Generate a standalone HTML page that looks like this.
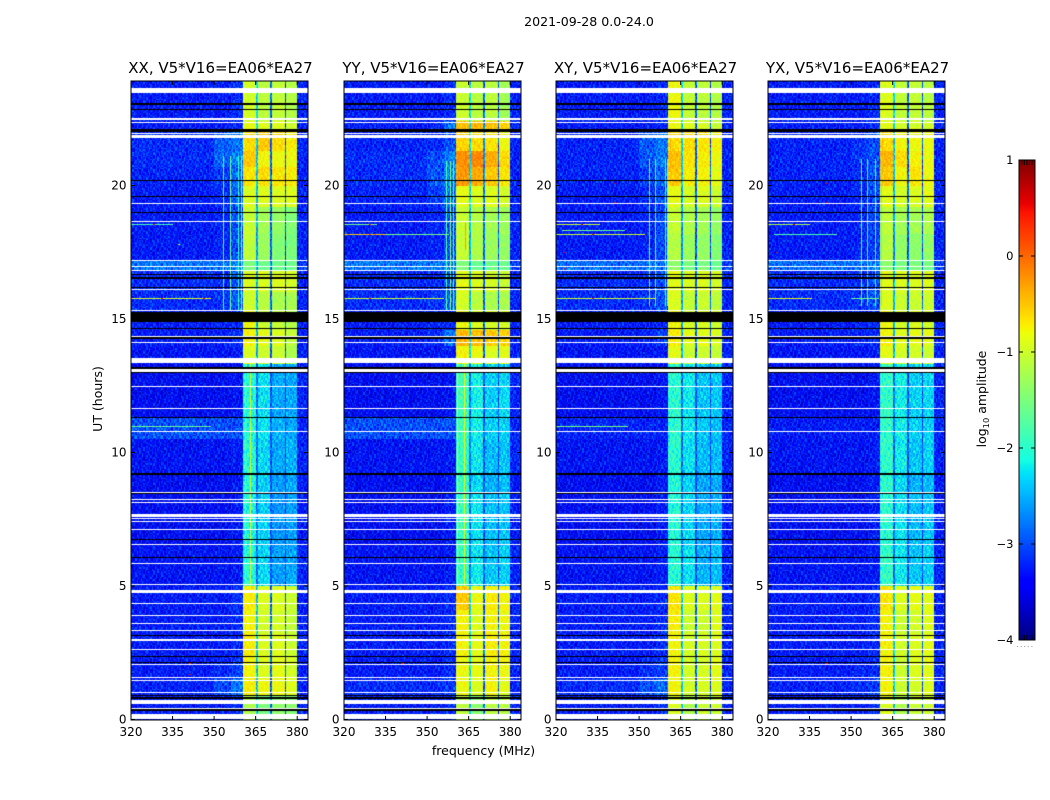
<!DOCTYPE html>
<html>
<head>
<meta charset="utf-8">
<title>2021-09-28 0.0-24.0</title>
<style>
html,body{margin:0;padding:0;background:#fff;}
#fig{position:relative;width:1050px;height:800px;overflow:hidden;background:#fff;}
canvas{position:absolute;display:block;}
svg{position:absolute;left:0;top:0;}
text{font-family:"DejaVu Sans","Liberation Sans",sans-serif;fill:#000;}
</style>
</head>
<body>
<div id="fig">
<svg id="overlay" width="1050" height="800" viewBox="0 0 1050 800">
  <text x="589" y="26" font-size="12.6" text-anchor="middle">2021-09-28 0.0-24.0</text>
  <text x="483.5" y="755" font-size="12.5" text-anchor="middle">frequency (MHz)</text>
  <text x="102" y="399" font-size="12.5" text-anchor="middle" transform="rotate(-90 102 399)">UT (hours)</text>
  <text x="986" y="399" font-size="12.5" text-anchor="middle" transform="rotate(-90 986 399)">log<tspan font-size="8.3" dy="3">10</tspan><tspan dy="-3"> amplitude</tspan></text>
</svg>
</div>
<script>
// ---- data ----
const panelTitles = ["XX, V5*V16=EA06*EA27","YY, V5*V16=EA06*EA27","XY, V5*V16=EA06*EA27","YX, V5*V16=EA06*EA27"];
const freqTicks = [320,335,350,365,380];
const utTicks = [0,5,10,15,20];
const colorbarTicks = [1,0,-1,-2,-3,-4];
const freqEdges = [320,350,356,360.5,365,366,370,370.8,375.3,375.8,380,384];
const utEdges = [0,0.9,1.5,2.3,3.2,4.1,5.0,6.5,8.5,9.2,10.5,11.3,13.3,14.0,14.6,15.3,16.0,16.8,17.2,18.2,19.2,20.0,20.7,21.3,22.0,22.4,23.9];

// log10 amplitude per UT block (rows, bottom to top) and frequency band (columns)
const xxValues = [
[-3.3,-3.3,-3.2,-1.2,-2.4,-1.5,-2.9,-1.4,-3.0,-1.4,-3.25],
[-3.25,-3.0,-2.8,-0.72,-2.4,-0.82,-2.9,-0.82,-3.0,-0.92,-3.25],
[-3.3,-3.2,-3.1,-0.77,-2.4,-0.92,-2.9,-0.87,-3.0,-0.97,-3.25],
[-3.3,-3.3,-3.2,-0.72,-2.4,-0.92,-2.9,-0.92,-3.0,-1.02,-3.25],
[-3.3,-3.3,-3.2,-0.77,-2.4,-0.97,-2.9,-0.97,-3.0,-1.07,-3.25],
[-3.3,-3.3,-3.2,-0.72,-2.4,-0.92,-2.9,-0.92,-3.0,-1.02,-3.25],
[-3.35,-3.35,-3.3,-2.05,-2.85,-2.3,-3.0,-2.6,-3.1,-2.55,-3.25],
[-3.4,-3.4,-3.3,-2.1,-2.85,-2.35,-3.0,-2.65,-3.1,-2.6,-3.3],
[-3.4,-3.4,-3.3,-2.1,-2.85,-2.35,-3.0,-2.6,-3.1,-2.55,-3.3],
[-3.35,-3.35,-3.3,-2.05,-2.85,-2.3,-3.0,-2.55,-3.1,-2.5,-3.25],
[-3.0,-3.0,-3.0,-2.05,-2.8,-2.25,-2.95,-2.5,-3.05,-2.55,-3.25],
[-3.4,-3.4,-3.35,-2.05,-2.85,-2.25,-3.0,-2.55,-3.05,-2.55,-3.25],
[-3.35,-3.35,-3.3,-0.92,-2.5,-1.02,-2.9,-1.02,-3.0,-1.22,-3.25],
[-3.3,-3.25,-3.2,-0.77,-2.5,-0.87,-2.9,-0.92,-3.0,-1.07,-3.25],
[-3.3,-3.25,-3.2,-0.82,-2.5,-1.02,-2.9,-1.07,-3.0,-1.17,-3.25],
[-3.2,-3.15,-2.9,-1.02,-2.5,-1.12,-2.9,-1.22,-3.0,-1.22,-3.25],
[-3.2,-3.2,-3.0,-0.92,-2.5,-0.92,-2.9,-0.92,-3.0,-0.97,-3.25],
[-2.8,-2.8,-2.75,-1.5,-2.5,-1.6,-2.8,-1.6,-2.9,-1.6,-3.1],
[-3.3,-3.25,-3.0,-1.1,-2.6,-1.3,-2.9,-1.45,-3.0,-1.5,-3.25],
[-3.3,-3.25,-3.0,-1.05,-2.5,-1.25,-2.9,-1.35,-3.0,-1.45,-3.25],
[-3.3,-3.2,-2.9,-0.92,-2.5,-0.92,-2.9,-0.92,-3.0,-0.92,-3.25],
[-3.25,-3.1,-2.85,-0.67,-2.4,-0.62,-2.9,-0.67,-3.0,-0.72,-3.25],
[-3.2,-2.9,-2.75,-0.52,-2.4,-0.77,-2.9,-0.82,-3.0,-0.82,-3.25],
[-3.2,-2.95,-2.8,-0.62,-2.4,-0.52,-2.9,-0.62,-3.0,-0.72,-3.25],
[-3.3,-3.3,-3.2,-0.87,-2.3,-0.92,-2.9,-0.92,-3.0,-1.02,-3.25],
[-3.3,-3.3,-3.2,-0.97,-2.3,-1.12,-2.9,-1.07,-3.0,-1.17,-3.25]
];
const yyValues = [
[-3.3,-3.3,-3.2,-1.12,-2.4,-1.42,-2.9,-1.12,-3.0,-1.12,-3.25],
[-3.2,-3.2,-3.1,-0.82,-2.3,-0.92,-2.9,-0.77,-3.0,-0.87,-3.25],
[-3.3,-3.3,-3.2,-0.82,-2.3,-0.87,-2.9,-0.77,-3.0,-0.82,-3.25],
[-3.3,-3.3,-3.2,-0.77,-2.3,-0.87,-2.9,-0.72,-3.0,-0.77,-3.25],
[-3.3,-3.3,-3.2,-0.77,-2.3,-0.92,-2.9,-0.77,-3.0,-0.82,-3.25],
[-3.3,-3.3,-3.2,-0.52,-2.3,-0.82,-2.9,-0.72,-3.0,-0.77,-3.25],
[-3.35,-3.35,-3.3,-1.95,-2.8,-2.2,-2.95,-2.4,-3.05,-2.35,-3.25],
[-3.4,-3.4,-3.3,-1.95,-2.8,-2.25,-3.0,-2.45,-3.05,-2.4,-3.3],
[-3.4,-3.4,-3.3,-1.95,-2.8,-2.3,-3.0,-2.5,-3.05,-2.45,-3.3],
[-3.35,-3.35,-3.3,-1.95,-2.8,-2.2,-3.0,-2.45,-3.05,-2.4,-3.25],
[-3.0,-3.0,-3.0,-1.9,-2.7,-2.15,-2.9,-2.35,-3.0,-2.35,-3.25],
[-3.4,-3.4,-3.35,-1.9,-2.8,-2.15,-2.95,-2.35,-3.0,-2.3,-3.25],
[-3.35,-3.35,-3.3,-0.77,-2.3,-0.82,-2.9,-0.92,-3.0,-0.87,-3.25],
[-3.3,-3.2,-2.8,-0.42,-2.3,-0.47,-2.9,-0.52,-3.0,-0.57,-3.25],
[-3.3,-3.25,-3.2,-0.82,-2.4,-0.92,-2.9,-0.97,-3.0,-0.97,-3.25],
[-3.2,-3.15,-2.9,-0.97,-2.4,-1.12,-2.9,-1.22,-3.0,-1.22,-3.25],
[-3.2,-3.2,-3.0,-0.87,-2.4,-0.92,-2.9,-0.97,-3.0,-1.02,-3.25],
[-2.8,-2.8,-2.75,-1.5,-2.5,-1.6,-2.8,-1.6,-2.9,-1.6,-3.1],
[-3.3,-3.25,-3.0,-1.05,-2.5,-1.2,-2.9,-1.3,-3.0,-1.35,-3.25],
[-3.3,-3.25,-3.0,-1.05,-2.4,-1.15,-2.9,-1.25,-3.0,-1.3,-3.25],
[-3.25,-3.1,-2.85,-0.87,-2.3,-0.92,-2.8,-0.92,-3.0,-0.97,-3.25],
[-3.2,-2.95,-2.75,-0.27,-2.3,-0.37,-2.7,-0.52,-3.0,-0.67,-3.25],
[-3.2,-3.0,-2.75,-0.22,-2.3,-0.17,-2.7,-0.37,-3.0,-0.62,-3.25],
[-3.25,-3.2,-3.0,-0.57,-2.3,-0.62,-2.7,-0.67,-3.0,-0.82,-3.25],
[-3.3,-3.25,-2.8,-0.47,-2.3,-0.42,-2.7,-0.47,-3.0,-0.57,-3.25],
[-3.3,-3.3,-3.2,-1.02,-2.3,-1.12,-2.9,-1.12,-3.0,-1.27,-3.25]
];
const xyValues = [
[-3.3,-3.3,-3.2,-0.92,-2.4,-1.22,-2.9,-1.02,-3.0,-1.02,-3.25],
[-3.2,-3.0,-2.85,-0.77,-2.4,-0.97,-2.9,-0.97,-3.0,-0.92,-3.25],
[-3.3,-3.2,-3.1,-0.77,-2.4,-0.97,-2.9,-0.97,-3.0,-0.87,-3.25],
[-3.3,-3.3,-3.2,-0.77,-2.4,-0.97,-2.9,-0.97,-3.0,-0.92,-3.25],
[-3.3,-3.3,-3.2,-0.72,-2.4,-1.02,-2.9,-1.02,-3.0,-0.92,-3.25],
[-3.3,-3.3,-3.2,-0.67,-2.4,-0.92,-2.9,-0.92,-3.0,-0.87,-3.25],
[-3.35,-3.35,-3.3,-2.0,-2.85,-2.25,-3.0,-2.5,-3.1,-2.45,-3.25],
[-3.4,-3.4,-3.3,-2.05,-2.85,-2.3,-3.0,-2.55,-3.1,-2.5,-3.3],
[-3.4,-3.4,-3.3,-2.05,-2.85,-2.35,-3.0,-2.55,-3.1,-2.55,-3.3],
[-3.35,-3.35,-3.3,-2.0,-2.85,-2.25,-3.0,-2.45,-3.1,-2.45,-3.25],
[-3.25,-3.25,-3.25,-2.0,-2.8,-2.2,-2.95,-2.4,-3.05,-2.45,-3.25],
[-3.4,-3.4,-3.35,-2.0,-2.85,-2.2,-3.0,-2.4,-3.05,-2.4,-3.25],
[-3.35,-3.35,-3.3,-0.87,-2.5,-1.02,-2.9,-1.02,-3.0,-1.07,-3.25],
[-3.3,-3.25,-3.1,-0.72,-2.5,-0.87,-2.9,-0.87,-3.0,-0.92,-3.25],
[-3.3,-3.25,-3.2,-0.77,-2.5,-0.97,-2.9,-0.97,-3.0,-1.02,-3.25],
[-3.2,-3.15,-3.0,-0.92,-2.5,-1.07,-2.9,-1.02,-3.0,-1.12,-3.25],
[-3.2,-3.2,-3.0,-0.87,-2.5,-0.92,-2.9,-0.92,-3.0,-0.97,-3.25],
[-2.85,-2.85,-2.8,-1.4,-2.5,-1.5,-2.8,-1.5,-2.9,-1.6,-3.1],
[-3.3,-3.25,-3.05,-1.15,-2.7,-1.3,-2.95,-1.35,-3.0,-1.45,-3.25],
[-3.3,-3.25,-3.05,-1.05,-2.6,-1.2,-2.9,-1.25,-3.0,-1.35,-3.25],
[-3.3,-3.2,-3.0,-0.87,-2.5,-0.97,-2.9,-0.92,-3.0,-1.02,-3.25],
[-3.25,-3.1,-2.9,-0.52,-2.4,-0.72,-2.9,-0.77,-3.0,-0.87,-3.25],
[-3.25,-2.95,-2.8,-0.47,-2.4,-0.67,-2.9,-0.72,-3.0,-0.82,-3.25],
[-3.25,-2.95,-2.8,-0.62,-2.4,-0.62,-2.9,-0.67,-3.0,-0.77,-3.25],
[-3.3,-3.3,-3.2,-0.82,-2.3,-0.92,-2.9,-0.97,-3.0,-1.02,-3.25],
[-3.3,-3.3,-3.2,-0.82,-2.3,-1.07,-2.9,-1.12,-3.0,-1.17,-3.25]
];
const yxValues = [
[-3.3,-3.3,-3.2,-0.92,-2.4,-1.22,-2.9,-1.02,-3.0,-1.02,-3.25],
[-3.25,-3.2,-3.1,-0.77,-2.4,-1.02,-2.9,-0.97,-3.0,-0.92,-3.25],
[-3.3,-3.25,-3.2,-0.77,-2.4,-1.02,-2.9,-0.92,-3.0,-0.87,-3.25],
[-3.3,-3.3,-3.2,-0.77,-2.4,-0.97,-2.9,-0.92,-3.0,-0.87,-3.25],
[-3.3,-3.3,-3.2,-0.77,-2.4,-1.02,-2.9,-0.97,-3.0,-0.92,-3.25],
[-3.3,-3.3,-3.2,-0.67,-2.4,-0.92,-2.9,-0.87,-3.0,-0.87,-3.25],
[-3.35,-3.35,-3.3,-1.95,-2.85,-2.2,-3.0,-2.4,-3.1,-2.35,-3.25],
[-3.4,-3.4,-3.3,-2.0,-2.85,-2.25,-3.0,-2.45,-3.1,-2.4,-3.3],
[-3.4,-3.4,-3.3,-2.0,-2.85,-2.3,-3.0,-2.5,-3.1,-2.45,-3.3],
[-3.35,-3.35,-3.3,-1.95,-2.85,-2.2,-3.0,-2.4,-3.1,-2.35,-3.25],
[-3.3,-3.3,-3.3,-1.95,-2.8,-2.15,-2.95,-2.35,-3.05,-2.35,-3.25],
[-3.4,-3.4,-3.35,-1.95,-2.85,-2.15,-3.0,-2.35,-3.05,-2.3,-3.25],
[-3.35,-3.35,-3.3,-0.87,-2.5,-0.97,-2.9,-0.97,-3.0,-1.02,-3.25],
[-3.3,-3.25,-3.2,-0.77,-2.5,-0.87,-2.9,-0.87,-3.0,-0.87,-3.25],
[-3.3,-3.25,-3.2,-0.82,-2.5,-0.97,-2.9,-0.92,-3.0,-0.97,-3.25],
[-3.2,-3.15,-3.0,-0.92,-2.5,-1.02,-2.9,-1.02,-3.0,-1.02,-3.25],
[-3.2,-3.2,-3.05,-0.87,-2.5,-0.92,-2.9,-0.92,-3.0,-0.92,-3.25],
[-2.85,-2.85,-2.8,-1.4,-2.5,-1.5,-2.8,-1.5,-2.9,-1.55,-3.1],
[-3.3,-3.25,-3.1,-1.15,-2.7,-1.35,-2.95,-1.4,-3.0,-1.35,-3.25],
[-3.3,-3.25,-3.1,-1.1,-2.6,-1.25,-2.9,-1.25,-3.0,-1.2,-3.25],
[-3.3,-3.25,-3.05,-0.87,-2.5,-0.97,-2.9,-0.92,-3.0,-0.87,-3.25],
[-3.25,-3.2,-3.0,-0.52,-2.4,-0.77,-2.9,-0.67,-3.0,-0.82,-3.25],
[-3.25,-3.15,-3.0,-0.42,-2.4,-0.62,-2.9,-0.77,-3.0,-0.82,-3.25],
[-3.25,-3.15,-3.0,-0.62,-2.4,-0.77,-2.9,-0.82,-3.0,-0.82,-3.25],
[-3.3,-3.3,-3.2,-0.87,-2.3,-0.97,-2.9,-0.97,-3.0,-1.02,-3.25],
[-3.3,-3.3,-3.2,-0.92,-2.3,-1.07,-2.9,-1.07,-3.0,-1.12,-3.25]
];

// flagged integrations [utLow, utHigh]: blank (white) and zero (black)
const whiteFlags = [
[0.01,0.19],[0.40,0.44],[0.58,0.74],[0.98,1.02],[1.44,1.48],[1.54,1.58],[2.05,2.09],[2.59,2.63],[2.95,3.00],[3.30,3.34],[3.57,3.60],[3.88,3.91],[4.31,4.35],[4.75,4.85],[5.04,5.07],[5.84,5.87],[6.53,6.57],[7.09,7.12],[7.41,7.45],[7.52,7.56],[7.60,7.68],[8.10,8.13],[8.23,8.26],[8.48,8.52],[10.75,10.79],[11.63,11.67],[12.45,12.49],[13.01,13.11],[13.34,13.55],[14.10,14.14],[14.33,14.37],[15.29,15.32],[16.09,16.12],[16.80,16.83],[16.93,16.97],[17.16,17.20],[18.62,18.66],[19.29,19.33],[21.79,21.89],[21.92,21.96],[22.34,22.38],[22.47,22.51],[23.48,23.67]
];
const blackFlags = [
[0.33,0.38],[0.78,0.83],[0.88,0.92],[2.13,2.16],[2.34,2.38],[3.12,3.15],[6.04,6.07],[6.72,6.75],[8.45,8.48],[9.15,9.22],[11.29,11.33],[12.98,13.01],[13.11,13.20],[14.25,14.31],[14.64,14.68],[14.87,15.26],[16.15,16.19],[16.51,16.56],[16.67,16.70],[18.97,19.00],[19.57,19.61],[20.17,20.20],[22.01,22.10],[22.83,22.85],[23.03,23.08]
];

// narrow-band interference: vertical [freq, utLow, utHigh, value], horizontal [ut, freqLow, freqHigh, value]
const xxVerticals = [[353.3,15.3,21.1,-1.8],[355.8,15.3,21.1,-1.6],[358.8,15.3,21.1,-1.9],[359.8,15.3,21.1,-1.7],[361,5,13.3,-1.8],[363,5,13.3,-1.0]];
const yyVerticals = [[356.7,15.3,20.9,-1.7],[358.3,15.3,20.9,-1.5],[359.2,15.3,20.9,-1.6],[360.9,5,13.5,-1.1],[363.4,5,13.5,-0.8],[363.6,17.6,18.6,-0.3],[363.6,20.3,21.3,-0.1]];
const xyVerticals = [[353.5,15.5,21,-1.6],[355.9,15.5,21,-1.8],[359.4,15.5,21,-1.9],[360,15.5,21,-1.7],[361.2,20.5,22,-0.4]];
const yxVerticals = [[353.5,15.5,21,-1.7],[355.9,15.5,21,-1.9],[358.7,15.5,21,-1.9],[360.7,15.5,21,-1.7],[361.2,20.5,22,-0.4]];
const xxHorizontals = [[15.77,320,349,-0.9],[18.55,320,335,-1.8],[5.87,320,345,-1.3],[10.99,320,349,-1.6],[17.0,320,352,-1.7]];
const yyHorizontals = [[18.17,320,335,-0.5],[18.17,335,358,-1.5],[15.77,320,356,-1.0],[18.55,320,332,-1.5]];
const xyHorizontals = [[18.55,320,336,-1.0],[18.33,322,345,-1.6],[18.17,320,352,-1.0],[15.77,320,356,-1.0],[10.99,320,346,-1.5]];
const yxHorizontals = [[18.55,320,335,-1.2],[18.17,322,345,-1.8],[15.77,320,336,-0.9],[15.77,350,360,-1.6]];
// isolated hot pixels [ut, freq, value]
const xxHotPixels = [[18.55,328,0.4],[15.77,331,0.3],[15.77,346,0.3],[17.8,337,-1.2],[2.1,341,0.3],[1.7,341,0.4]];
const yyHotPixels = [[18.55,329,0.4],[15.77,329,0.4],[2.1,341,0.3],[18.17,329,0.2]];
const xyHotPixels = [[18.55,329,0.5],[18.17,333,0.4],[15.77,333,0.4],[20.1,341,0.6],[19.4,341,0.6],[17.5,323,0.6],[16.9,323,0.5]];
const yxHotPixels = [[18.55,329,0.5],[20.1,341,0.7],[19.4,341,0.6],[17.5,323,0.6],[16.9,323,0.5],[2.1,341,0.4]];
// per-pixel scatter around the block level, in steps of 0.1 dex
const speckleTable = [
[2,-3,1,4,-2,0,-4,3,1,-1,2,-3,0,4,-2,1,-4,2,-1],
[-1,3,-4,0,2,-2,1,-3,4,0,-2,3,-1,-4,1,2,-3,0,3],
[4,0,-2,3,-3,1,2,-1,-4,2,3,0,-3,1,-2,4,0,-1,-3],
[-3,1,2,-1,4,-4,0,3,-2,1,-3,4,2,-1,0,-3,2,3,-2],
[0,-2,3,1,-1,3,-3,2,0,-4,1,-2,3,-3,4,0,-1,-2,2],
[3,-4,0,-2,1,2,4,-1,-3,2,0,3,-4,1,-1,-2,3,0,-3],
[-2,2,-1,4,-3,0,-2,3,1,-3,4,-1,0,2,-4,3,1,-2,1],
[1,0,3,-3,2,-1,3,-4,2,0,-2,1,-3,4,2,-1,-2,3,-4],
[-4,3,-2,1,0,4,-1,2,-3,3,-1,-4,2,0,-3,1,4,-2,0],
[2,-1,4,-3,3,-2,1,0,-1,-4,3,2,-2,-1,3,-3,0,1,4],
[-1,-3,0,2,-4,3,-3,1,4,-2,0,-1,3,-3,1,2,-4,3,-1],
[3,2,-3,0,1,-1,2,-4,-2,3,-3,4,-1,2,0,-2,1,-3,2],
[0,-2,1,3,-4,2,-1,4,0,-3,2,-1,1,-4,3,-2,2,0,-3]
];

const panelValues = [xxValues,yyValues,xyValues,yxValues];
const panelVerticals = [xxVerticals,yyVerticals,xyVerticals,yxVerticals];
const panelHorizontals = [xxHorizontals,yyHorizontals,xyHorizontals,yxHorizontals];
const panelHotPixels = [xxHotPixels,yyHotPixels,xyHotPixels,yxHotPixels];
const panelKeys = ["xx","yy","xy","yx"];

// ---- layout and scales ----
const panelLefts = [131,344,556,768];
const panelWidth = 177, plotTop = 81, plotBottom = 720;
const pxPerMHz = 2.77, pxPerHour = 26.7, utZeroY = 719.5;
const channelWidth = 0.5, integrationLength = 0.05;
const xScale = (left,f) => left + (f-320)*pxPerMHz;
const yScale = ut => utZeroY - ut*pxPerHour;
const cbLeft = 1019, cbRight = 1035, cbTop = 160, cbBottom = 640, cbMin = -4, cbMax = 1;
const cbScale = v => cbBottom - (v-cbMin)/(cbMax-cbMin)*(cbBottom-cbTop);

function ramp(t,pts){
  for(let i=1;i<pts.length;i++){
    if(t<=pts[i][0]){
      const a=pts[i-1],b=pts[i];
      return a[1]+(b[1]-a[1])*(t-a[0])/(b[0]-a[0]);
    }
  }
  return pts[pts.length-1][1];
}
function jet(v){
  const t=Math.max(0,Math.min(1,(v-cbMin)/(cbMax-cbMin)));
  const r=ramp(t,[[0,0],[0.35,0],[0.66,1],[0.89,1],[1,0.5]]);
  const g=ramp(t,[[0,0],[0.125,0],[0.375,1],[0.64,1],[0.91,0],[1,0]]);
  const b=ramp(t,[[0,0.5],[0.11,1],[0.34,1],[0.65,0],[1,0]]);
  return "rgb("+Math.round(r*255)+","+Math.round(g*255)+","+Math.round(b*255)+")";
}
function bandIndex(edges,val){
  for(let i=0;i<edges.length-1;i++){ if(val<edges[i+1]) return i; }
  return edges.length-2;
}
function speckle(r,c,p){
  const row=speckleTable[(r+p*5)%speckleTable.length];
  return row[(c+r*7+p*3)%row.length]*0.1;
}

const fig=document.getElementById("fig");
const svg=document.getElementById("overlay");
const NS="http://www.w3.org/2000/svg";
function line(x1,y1,x2,y2,stroke,w){
  const el=document.createElementNS(NS,"line");
  el.setAttribute("x1",x1);el.setAttribute("y1",y1);el.setAttribute("x2",x2);el.setAttribute("y2",y2);
  el.setAttribute("stroke",stroke);el.setAttribute("stroke-width",w);
  svg.appendChild(el);
  return el;
}
function label(x,y,txt,size,anchor){
  const el=document.createElementNS(NS,"text");
  el.setAttribute("x",x);el.setAttribute("y",y);el.setAttribute("font-size",size);el.setAttribute("text-anchor",anchor);
  el.textContent=txt;
  svg.appendChild(el);
  return el;
}

panelLefts.forEach((left,p)=>{
  const canvas=document.createElement("canvas");
  canvas.width=panelWidth;canvas.height=plotBottom-plotTop;
  canvas.style.left=left+"px";canvas.style.top=plotTop+"px";
  
  
  fig.insertBefore(canvas,svg);
  const ctx=canvas.getContext("2d");
  const X=f=>Math.round(xScale(0,f));
  const Y=ut=>Math.round(yScale(ut)-plotTop);
  const values=panelValues[p];
  const nChan=Math.ceil((384-320)/channelWidth);
  const nInt=Math.ceil(utEdges[utEdges.length-1]/integrationLength);
  for(let r=0;r<nInt;r++){
    const ut=r*integrationLength;
    const row=values[bandIndex(utEdges,ut+integrationLength/2)];
    const y0=Y(ut+integrationLength),y1=Y(ut);
    for(let c=0;c<nChan;c++){
      const f=320+c*channelWidth;
      const base=row[bandIndex(freqEdges,f+channelWidth/2)];
      const amp=base<-2.7?1:(base<-1.6?0.8:0.45);
      ctx.fillStyle=jet(base+speckle(r,c,p)*amp);
      ctx.fillRect(X(f),y0,Math.max(1,X(f+channelWidth)-X(f)),Math.max(1,y1-y0));
    }
  }
  panelVerticals[p].forEach((v,i)=>{
    const [f,lo,hi,val]=v;
    for(let ut=lo;ut<hi;ut+=integrationLength){
      const r=Math.round(ut/integrationLength);
      ctx.fillStyle=jet(val+speckle(r,i,p)*0.35);
      ctx.fillRect(X(f),Y(ut+integrationLength),1,Math.max(1,Y(ut)-Y(ut+integrationLength)));
    }
  });
  panelHorizontals[p].forEach((h,i)=>{
    const [ut,lo,hi,val]=h;
    for(let f=lo;f<hi;f+=channelWidth){
      const c=Math.round((f-320)/channelWidth);
      ctx.fillStyle=jet(val+speckle(i,c,p)*0.5);
      ctx.fillRect(X(f),Y(ut),Math.max(1,X(f+channelWidth)-X(f)),1);
    }
  });
  panelHotPixels[p].forEach(h=>{
    const [ut,f,val]=h;
    ctx.fillStyle=jet(val);
    ctx.fillRect(X(f),Y(ut),2,1);
  });
  whiteFlags.forEach(fl=>{
    ctx.fillStyle="#fff";
    ctx.fillRect(0,Y(fl[1]),panelWidth,Math.max(1,Y(fl[0])-Y(fl[1])));
  });
  blackFlags.forEach(fl=>{
    ctx.fillStyle="#000";
    ctx.fillRect(0,Y(fl[1]),panelWidth,Math.max(1,Y(fl[0])-Y(fl[1])));
  });

  const frame=document.createElementNS(NS,"rect");
  frame.setAttribute("x",left);frame.setAttribute("y",plotTop);
  frame.setAttribute("width",panelWidth);frame.setAttribute("height",plotBottom-plotTop);
  frame.setAttribute("fill","none");frame.setAttribute("stroke","#000");frame.setAttribute("stroke-width","1");
  
  
  svg.appendChild(frame);

  const title=label(left+89.5,73,panelTitles[p],15,"middle");
  
  

  freqTicks.forEach(f=>{
    const x=xScale(left,f);
    const tb=line(x,plotBottom,x,plotBottom-4,"#000",1);
    
    
    const tt=line(x,plotTop,x,plotTop+4,"#000",1);
    
    
    const tl=label(x,736,String(f),12,"middle");
    
    
  });
  utTicks.forEach(u=>{
    const y=yScale(u);
    const tl=line(left,y,left+4,y,"#000",1);
    
    
    const tr=line(left+panelWidth,y,left+panelWidth-4,y,"#000",1);
    
    
    const lab=label(left-4.5,y+4,String(u),12,"end");
    
    
  });
});

// colorbar
const cbCanvas=document.createElement("canvas");
cbCanvas.width=cbRight-cbLeft;cbCanvas.height=cbBottom-cbTop;
cbCanvas.style.left=cbLeft+"px";cbCanvas.style.top=cbTop+"px";


fig.insertBefore(cbCanvas,svg);
const cbCtx=cbCanvas.getContext("2d");
for(let i=0;i<cbBottom-cbTop;i++){
  cbCtx.fillStyle=jet(cbMax-(i+0.5)/(cbBottom-cbTop)*(cbMax-cbMin));
  cbCtx.fillRect(0,i,cbRight-cbLeft,1);
}
const cbFrame=document.createElementNS(NS,"rect");
cbFrame.setAttribute("x",cbLeft);cbFrame.setAttribute("y",cbTop);
cbFrame.setAttribute("width",cbRight-cbLeft);cbFrame.setAttribute("height",cbBottom-cbTop);
cbFrame.setAttribute("fill","none");cbFrame.setAttribute("stroke","#000");cbFrame.setAttribute("stroke-width","1");


svg.appendChild(cbFrame);
colorbarTicks.forEach(v=>{
  const y=cbScale(v);
  const a=line(cbLeft,y,cbLeft+4,y,"#000",1);
  
  
  const b=line(cbRight,y,cbRight-4,y,"#000",1);
  
  
  const lab=label(1013.5,y+4,(v<0?"\u2212":"")+Math.abs(v),11.5,"end");
  
  
});
[1021.7,1024.3,1027,1029.5,1032].forEach(x=>{
  const a=line(x,cbTop,x,cbTop+5,"#000",1);
  
  
  const b=line(x,cbBottom,x,cbBottom-5,"#000",1);
  
  
});
const dots=line(1017,646.5,1035,646.5,"#999",1);
dots.setAttribute("stroke-dasharray","1 2.6");


</script>
</body>
</html>
